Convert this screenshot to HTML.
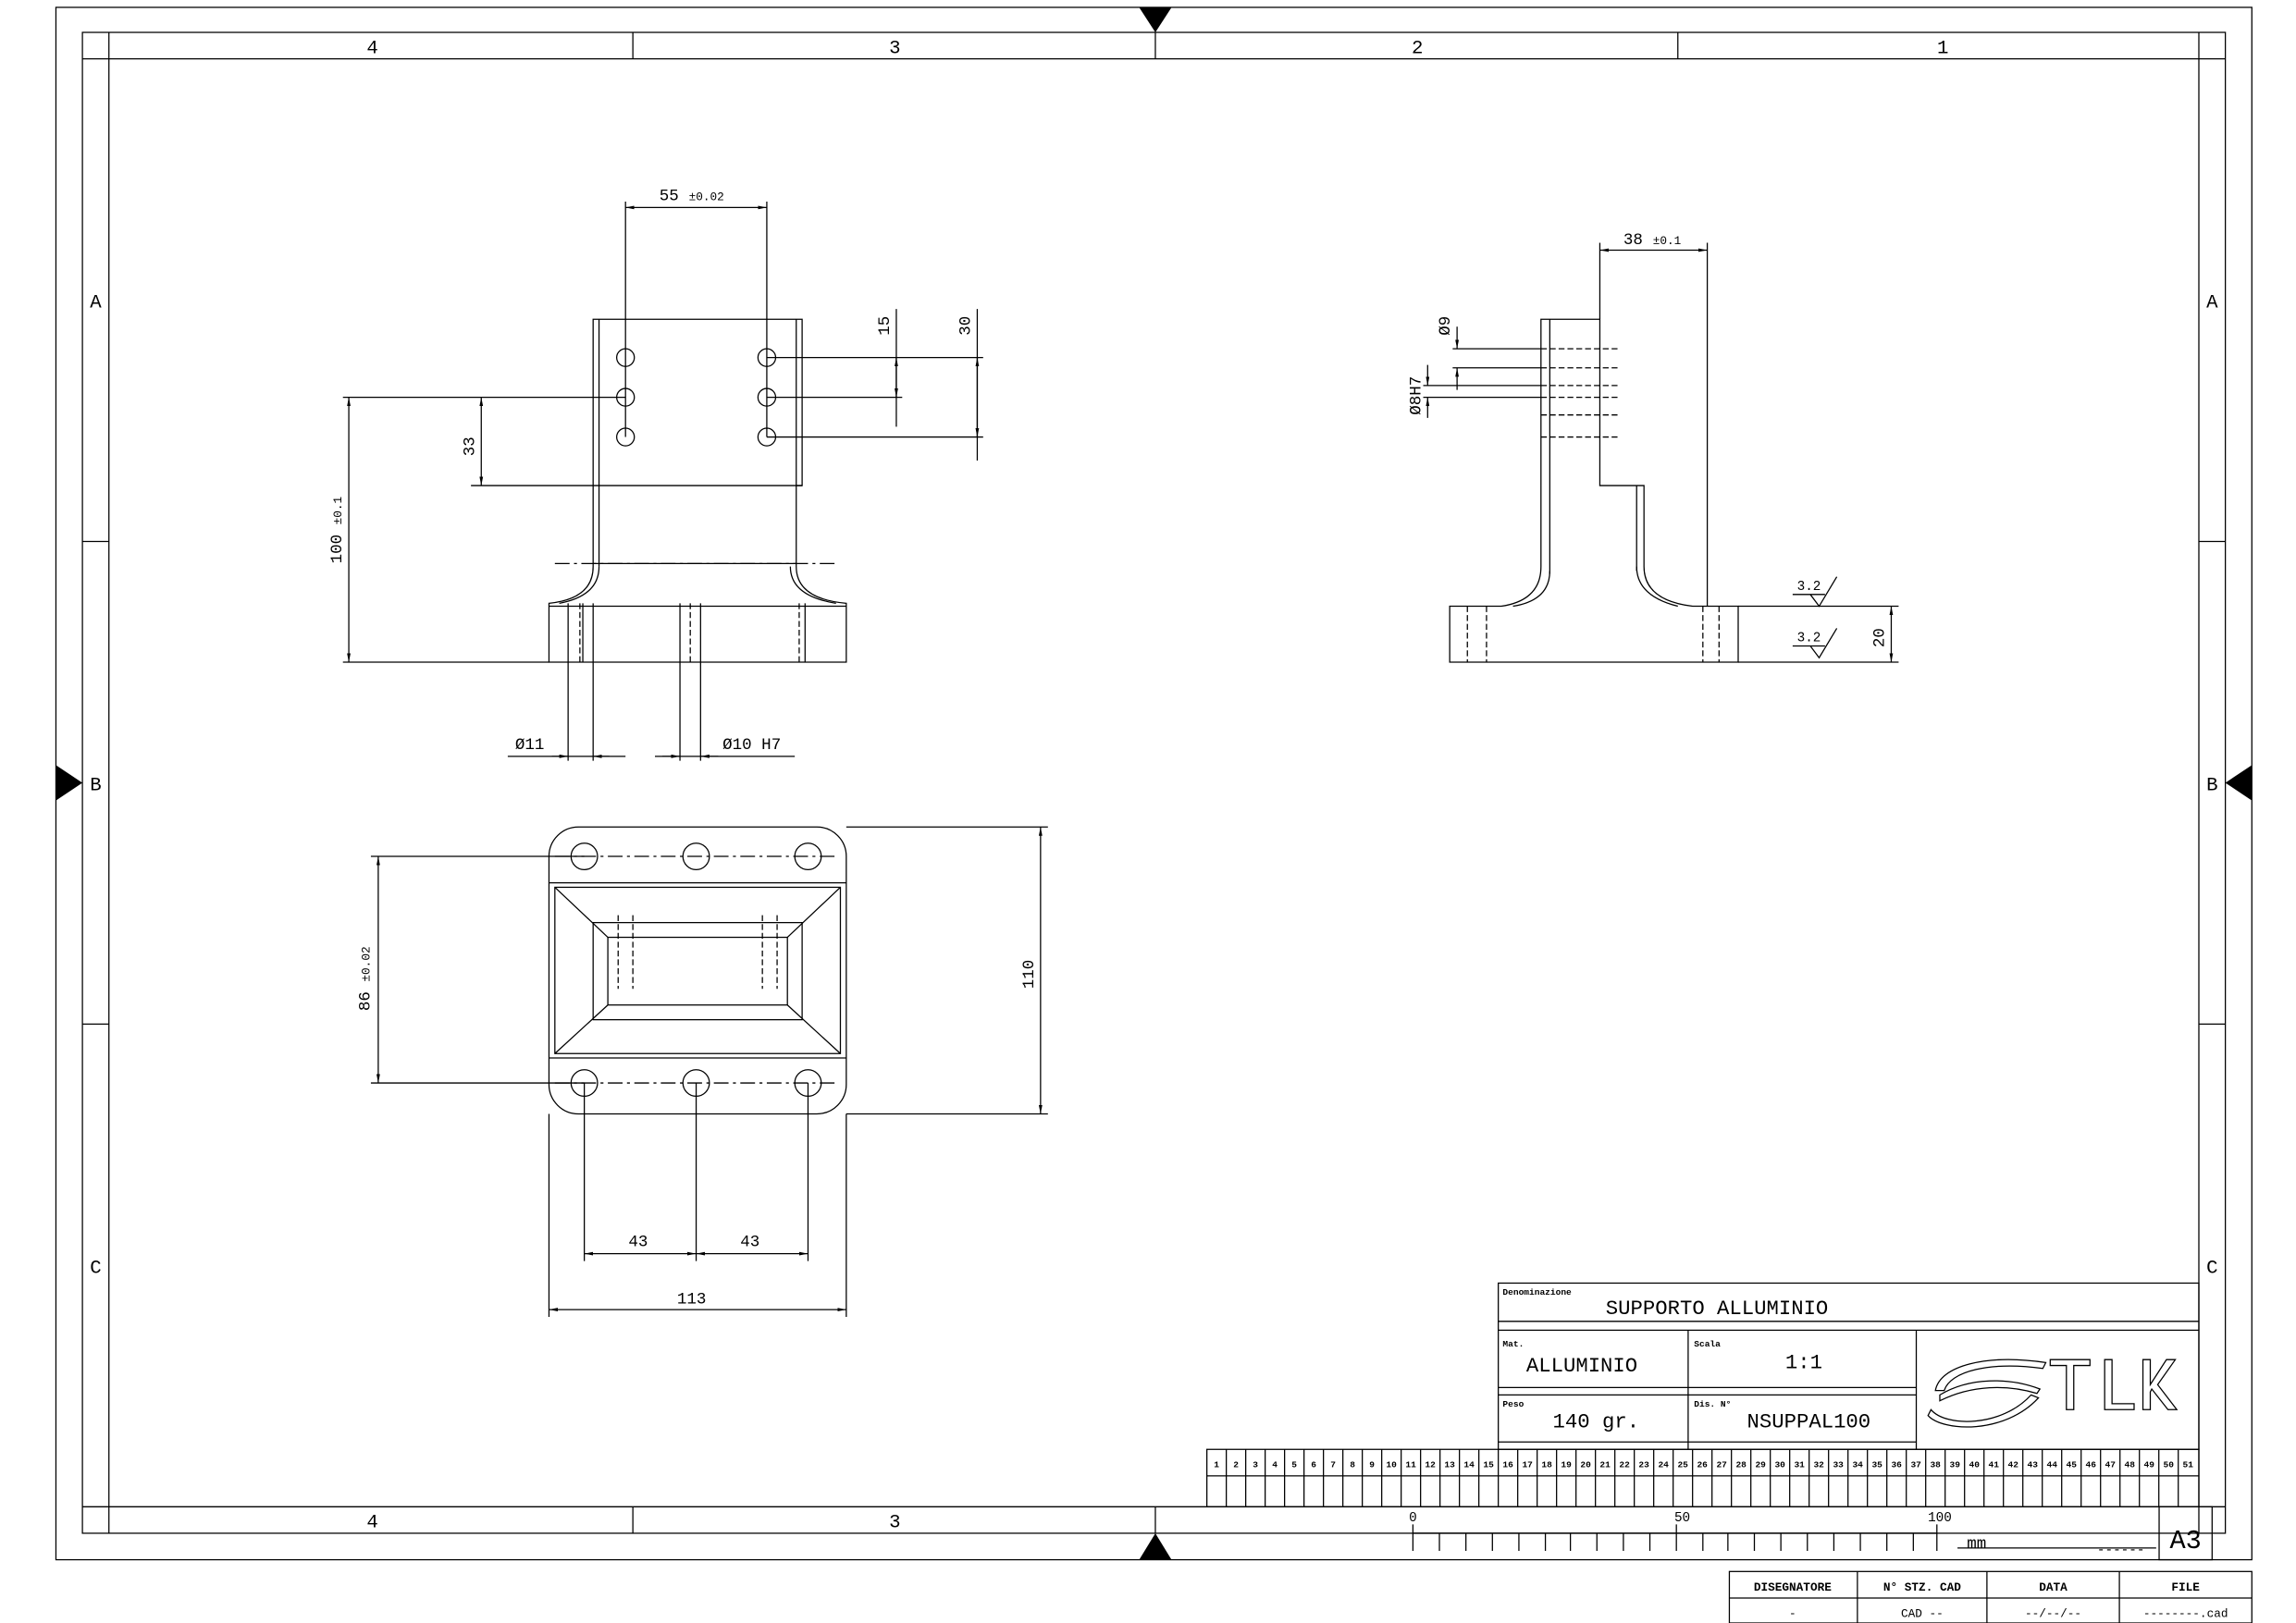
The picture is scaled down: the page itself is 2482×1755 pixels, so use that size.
<!DOCTYPE html>
<html><head><meta charset="utf-8"><style>
html,body{margin:0;padding:0;background:#fff;}
svg{display:block}
text{font-family:"Liberation Mono","DejaVu Sans Mono",monospace;fill:#000}
.s{font-family:"Liberation Sans",sans-serif}
</style></head><body>
<svg width="2482" height="1755" viewBox="0 0 1560 1103" preserveAspectRatio="none" xmlns="http://www.w3.org/2000/svg">
<defs>
<marker id="a" viewBox="0 0 10 10" refX="10" refY="5" markerWidth="6" markerHeight="6" orient="auto-start-reverse" markerUnits="userSpaceOnUse"><path d="M0,3 L10,5 L0,7z" fill="#000"/></marker>
</defs>
<g fill="none" stroke="#000" stroke-width="0.8">
<rect x="38" y="5" width="1492" height="1055"/>
<rect x="56" y="22" width="1456" height="1020"/>
<line x1="56" y1="40" x2="1512" y2="40"/>
<line x1="56" y1="1024" x2="1512" y2="1024"/>
<line x1="74" y1="22" x2="74" y2="1042"/>
<line x1="1494" y1="22" x2="1494" y2="1042"/>
<line x1="430" y1="22" x2="430" y2="40"/><line x1="785" y1="22" x2="785" y2="40"/><line x1="1140" y1="22" x2="1140" y2="40"/>
<line x1="430" y1="1024" x2="430" y2="1042"/><line x1="785" y1="1024" x2="785" y2="1042"/>
<line x1="56" y1="368" x2="74" y2="368"/><line x1="56" y1="696" x2="74" y2="696"/>
<line x1="1494" y1="368" x2="1512" y2="368"/><line x1="1494" y1="696" x2="1512" y2="696"/>
</g>
<g fill="#000">
<path d="M774,5 L796,5 L785,22z"/><path d="M774,1060 L796,1060 L785,1042z"/>
<path d="M38,520 L38,544 L56,532z"/><path d="M1530,520 L1530,544 L1512,532z"/>
</g>
<g class="s" font-size="13" text-anchor="middle">
<text x="253" y="36">4</text><text x="608" y="36">3</text><text x="963" y="36">2</text><text x="1320" y="36">1</text>
<text x="253" y="1038">4</text><text x="608" y="1038">3</text>
<text x="65" y="209">A</text><text x="65" y="537">B</text><text x="65" y="865">C</text>
<text x="1503" y="209">A</text><text x="1503" y="537">B</text><text x="1503" y="865">C</text>
</g>

<g fill="none" stroke="#000" stroke-width="0.8">
<path d="M403,217 L545,217 L545,330 L541,330 L541,385 Q541,407 575,410 L575,450 L373,450 L373,410 Q403,407 403,385 Z"/>
<line x1="407" y1="217" x2="407" y2="385"/><line x1="541" y1="217" x2="541" y2="330"/>
<path d="M407,385 Q407,405 380,410"/><path d="M537,385 Q537,405 568,410"/>
<line x1="373" y1="412" x2="575" y2="412"/>
<line x1="320" y1="330" x2="545" y2="330"/>
<line x1="377" y1="383" x2="570" y2="383" stroke-dasharray="10,3,2,3"/>
<line x1="403" y1="383" x2="541" y2="383"/>
<circle cx="425" cy="243" r="6"/><circle cx="521" cy="243" r="6"/>
<circle cx="425" cy="270" r="6"/><circle cx="521" cy="270" r="6"/>
<circle cx="425" cy="297" r="6"/><circle cx="521" cy="297" r="6"/>
<g stroke-dasharray="4,2"><line x1="394" y1="410" x2="394" y2="450"/><line x1="543" y1="410" x2="543" y2="450"/><line x1="469" y1="410" x2="469" y2="450"/></g>
<line x1="386" y1="410" x2="386" y2="517"/><line x1="403" y1="410" x2="403" y2="517"/>
<line x1="462" y1="410" x2="462" y2="517"/><line x1="476" y1="410" x2="476" y2="517"/>
<line x1="547" y1="410" x2="547" y2="450"/><line x1="396" y1="410" x2="396" y2="450"/>
<line x1="425" y1="137" x2="425" y2="297"/><line x1="521" y1="137" x2="521" y2="297"/>
<line x1="425" y1="141" x2="521" y2="141" marker-start="url(#a)" marker-end="url(#a)"/>
<line x1="521" y1="243" x2="668" y2="243"/><line x1="521" y1="270" x2="613" y2="270"/><line x1="521" y1="297" x2="668" y2="297"/>
<line x1="609" y1="210" x2="609" y2="290"/>
<line x1="609" y1="243" x2="609" y2="270" marker-start="url(#a)" marker-end="url(#a)"/>
<line x1="664" y1="210" x2="664" y2="313"/>
<line x1="664" y1="243" x2="664" y2="297" marker-start="url(#a)" marker-end="url(#a)"/>
<line x1="233" y1="270" x2="425" y2="270"/><line x1="233" y1="450" x2="373" y2="450"/>
<line x1="237" y1="270" x2="237" y2="450" marker-start="url(#a)" marker-end="url(#a)"/>
<line x1="327" y1="270" x2="327" y2="330" marker-start="url(#a)" marker-end="url(#a)"/>
<line x1="345" y1="514" x2="425" y2="514"/>
<line x1="375" y1="514" x2="386" y2="514" marker-end="url(#a)"/><line x1="414" y1="514" x2="403" y2="514" marker-end="url(#a)"/>
<line x1="445" y1="514" x2="540" y2="514"/>
<line x1="450" y1="514" x2="462" y2="514" marker-end="url(#a)"/><line x1="488" y1="514" x2="476" y2="514" marker-end="url(#a)"/>
</g>
<text x="448" y="136" font-size="11">55</text><text x="468" y="136" font-size="8">±0.02</text>
<text transform="translate(604,228) rotate(-90)" font-size="11">15</text>
<text transform="translate(659,228) rotate(-90)" font-size="11">30</text>
<text transform="translate(322,310) rotate(-90)" font-size="11">33</text>
<text transform="translate(232,383) rotate(-90)" font-size="11">100 <tspan font-size="8">±0.1</tspan></text>
<text x="350" y="509" font-size="11">Ø11</text>
<text x="491" y="509" font-size="11">Ø10 H7</text>

<g fill="none" stroke="#000" stroke-width="0.8">
<path d="M1047,217 L1087,217 L1087,330 L1117,330 L1117,385 Q1117,408 1150,412 L1181,412 L1181,450 L985,450 L985,412 L1020,412 Q1047,408 1047,385 Z"/>
<line x1="1053" y1="217" x2="1053" y2="390"/>
<path d="M1053,388 Q1053,408 1028,412"/><path d="M1112,385 Q1112,405 1140,412"/>
<line x1="1112" y1="330" x2="1112" y2="388"/>
<g stroke-dasharray="4,2">
<line x1="1047" y1="237" x2="1100" y2="237"/><line x1="1047" y1="250" x2="1100" y2="250"/>
<line x1="1047" y1="262" x2="1100" y2="262"/><line x1="1047" y1="270" x2="1100" y2="270"/>
<line x1="1047" y1="282" x2="1100" y2="282"/><line x1="1047" y1="297" x2="1100" y2="297"/>
<line x1="997" y1="412" x2="997" y2="450"/><line x1="1010" y1="412" x2="1010" y2="450"/>
<line x1="1157" y1="412" x2="1157" y2="450"/><line x1="1168" y1="412" x2="1168" y2="450"/>
</g>
<line x1="1087" y1="165" x2="1087" y2="217"/><line x1="1160" y1="165" x2="1160" y2="412"/>
<line x1="1087" y1="170" x2="1160" y2="170" marker-start="url(#a)" marker-end="url(#a)"/>
<line x1="987" y1="237" x2="1047" y2="237"/><line x1="987" y1="250" x2="1047" y2="250"/>
<line x1="990" y1="222" x2="990" y2="237" marker-end="url(#a)"/><line x1="990" y1="265" x2="990" y2="250" marker-end="url(#a)"/>
<line x1="967" y1="262" x2="1047" y2="262"/><line x1="967" y1="270" x2="1047" y2="270"/>
<line x1="970" y1="248" x2="970" y2="262" marker-end="url(#a)"/><line x1="970" y1="284" x2="970" y2="270" marker-end="url(#a)"/>
<line x1="1181" y1="412" x2="1290" y2="412"/><line x1="1181" y1="450" x2="1290" y2="450"/>
<line x1="1285" y1="412" x2="1285" y2="450" marker-start="url(#a)" marker-end="url(#a)"/>
<path d="M1218,404 L1240,404 M1230,404 L1236,412 L1248,392"/>
<path d="M1218,439 L1240,439 M1230,439 L1236,447 L1248,427"/>
</g>
<text x="1103" y="166" font-size="11">38</text><text x="1123" y="166" font-size="8">±0.1</text>
<text transform="translate(985,228) rotate(-90)" font-size="11">Ø9</text>
<text transform="translate(965,282) rotate(-90)" font-size="11">Ø8H7</text>
<text x="1221" y="401" font-size="9">3.2</text><text x="1221" y="436" font-size="9">3.2</text>
<text transform="translate(1280,440) rotate(-90)" font-size="11">20</text>

<g fill="none" stroke="#000" stroke-width="0.8">
<rect x="373" y="562" width="202" height="195" rx="20"/>
<circle cx="397" cy="582" r="9"/><circle cx="473" cy="582" r="9"/><circle cx="549" cy="582" r="9"/>
<circle cx="397" cy="736" r="9"/><circle cx="473" cy="736" r="9"/><circle cx="549" cy="736" r="9"/>
<line x1="377" y1="582" x2="570" y2="582" stroke-dasharray="10,3,2,3"/>
<line x1="377" y1="736" x2="570" y2="736" stroke-dasharray="10,3,2,3"/>
<line x1="373" y1="600" x2="575" y2="600"/><line x1="373" y1="719" x2="575" y2="719"/>
<rect x="377" y="603" width="194" height="113"/>
<rect x="403" y="627" width="142" height="66"/>
<rect x="413" y="637" width="122" height="46"/>
<path d="M377,603 L413,637 M571,603 L535,637 M377,716 L413,683 M571,716 L535,683"/>
<g stroke-dasharray="4,2"><line x1="420" y1="622" x2="420" y2="672"/><line x1="430" y1="622" x2="430" y2="672"/><line x1="518" y1="622" x2="518" y2="672"/><line x1="528" y1="622" x2="528" y2="672"/></g>
<line x1="252" y1="582" x2="397" y2="582"/><line x1="252" y1="736" x2="397" y2="736"/>
<line x1="257" y1="582" x2="257" y2="736" marker-start="url(#a)" marker-end="url(#a)"/>
<line x1="575" y1="562" x2="712" y2="562"/><line x1="575" y1="757" x2="712" y2="757"/>
<line x1="707" y1="562" x2="707" y2="757" marker-start="url(#a)" marker-end="url(#a)"/>
<line x1="397" y1="736" x2="397" y2="857"/><line x1="473" y1="736" x2="473" y2="857"/><line x1="549" y1="736" x2="549" y2="857"/>
<line x1="397" y1="852" x2="473" y2="852" marker-start="url(#a)" marker-end="url(#a)"/>
<line x1="473" y1="852" x2="549" y2="852" marker-start="url(#a)" marker-end="url(#a)"/>
<line x1="373" y1="757" x2="373" y2="895"/><line x1="575" y1="757" x2="575" y2="895"/>
<line x1="373" y1="890" x2="575" y2="890" marker-start="url(#a)" marker-end="url(#a)"/>
</g>
<text transform="translate(251,687) rotate(-90)" font-size="11">86 <tspan font-size="8">±0.02</tspan></text>
<text transform="translate(702,672) rotate(-90)" font-size="11">110</text>
<text x="427" y="847" font-size="11">43</text><text x="503" y="847" font-size="11">43</text>
<text x="460" y="886" font-size="11">113</text>

<g fill="none" stroke="#000" stroke-width="0.8">
<rect x="1018" y="872" width="476" height="113"/>
<line x1="1018" y1="898" x2="1494" y2="898"/><line x1="1018" y1="904" x2="1494" y2="904"/>
<line x1="1147" y1="904" x2="1147" y2="985"/><line x1="1302" y1="904" x2="1302" y2="985"/>
<line x1="1018" y1="943" x2="1302" y2="943"/><line x1="1018" y1="948" x2="1302" y2="948"/>
<line x1="1018" y1="980" x2="1302" y2="980"/>
<rect x="820" y="985" width="674" height="39"/>
<line x1="820" y1="1003" x2="1494" y2="1003"/>
<path d="M1315,945 C1318,928 1350,920 1390,926 L1388,930 C1352,925 1325,932 1321,945 Z"/>
<path d="M1312,958 C1322,970 1360,970 1380,948 L1385,950 C1362,975 1320,973 1310,962 Z"/>
<path d="M1318,948 C1338,936 1365,936 1386,944 L1384,947 C1364,941 1340,941 1318,952 Z"/>
<path d="M1393,924 L1420,924 L1420,928 L1409,928 L1409,958 L1404,958 L1404,928 L1393,928 Z"/>
<path d="M1430,924 L1435,924 L1435,954 L1450,954 L1450,958 L1430,958 Z"/>
<path d="M1456,924 L1461,924 L1461,941 L1472,924 L1478,924 L1466,941 L1479,958 L1473,958 L1462,944 L1461,946 L1461,958 L1456,958 Z"/>
<line x1="960" y1="1042" x2="1316" y2="1042"/>
<rect x="1467" y="1024" width="36" height="36"/>
<rect x="1175" y="1068" width="355" height="35"/>
<line x1="1175" y1="1086" x2="1530" y2="1086"/>
<line x1="1262" y1="1068" x2="1262" y2="1103"/><line x1="1350" y1="1068" x2="1350" y2="1103"/><line x1="1440" y1="1068" x2="1440" y2="1103"/>
</g>
<g stroke="#000" stroke-width="0.8">
<line x1="833.2" y1="985" x2="833.2" y2="1024"/><line x1="846.4" y1="985" x2="846.4" y2="1024"/><line x1="859.6" y1="985" x2="859.6" y2="1024"/><line x1="872.8" y1="985" x2="872.8" y2="1024"/><line x1="886.0" y1="985" x2="886.0" y2="1024"/><line x1="899.2" y1="985" x2="899.2" y2="1024"/><line x1="912.4" y1="985" x2="912.4" y2="1024"/><line x1="925.6" y1="985" x2="925.6" y2="1024"/><line x1="938.8" y1="985" x2="938.8" y2="1024"/><line x1="952.0" y1="985" x2="952.0" y2="1024"/><line x1="965.2" y1="985" x2="965.2" y2="1024"/><line x1="978.4" y1="985" x2="978.4" y2="1024"/><line x1="991.6" y1="985" x2="991.6" y2="1024"/><line x1="1004.8" y1="985" x2="1004.8" y2="1024"/><line x1="1018.0" y1="985" x2="1018.0" y2="1024"/><line x1="1031.2" y1="985" x2="1031.2" y2="1024"/><line x1="1044.4" y1="985" x2="1044.4" y2="1024"/><line x1="1057.6" y1="985" x2="1057.6" y2="1024"/><line x1="1070.8" y1="985" x2="1070.8" y2="1024"/><line x1="1084.0" y1="985" x2="1084.0" y2="1024"/><line x1="1097.2" y1="985" x2="1097.2" y2="1024"/><line x1="1110.4" y1="985" x2="1110.4" y2="1024"/><line x1="1123.6" y1="985" x2="1123.6" y2="1024"/><line x1="1136.8" y1="985" x2="1136.8" y2="1024"/><line x1="1150.0" y1="985" x2="1150.0" y2="1024"/><line x1="1163.2" y1="985" x2="1163.2" y2="1024"/><line x1="1176.4" y1="985" x2="1176.4" y2="1024"/><line x1="1189.6" y1="985" x2="1189.6" y2="1024"/><line x1="1202.8" y1="985" x2="1202.8" y2="1024"/><line x1="1216.0" y1="985" x2="1216.0" y2="1024"/><line x1="1229.2" y1="985" x2="1229.2" y2="1024"/><line x1="1242.4" y1="985" x2="1242.4" y2="1024"/><line x1="1255.6" y1="985" x2="1255.6" y2="1024"/><line x1="1268.8" y1="985" x2="1268.8" y2="1024"/><line x1="1282.0" y1="985" x2="1282.0" y2="1024"/><line x1="1295.2" y1="985" x2="1295.2" y2="1024"/><line x1="1308.4" y1="985" x2="1308.4" y2="1024"/><line x1="1321.6" y1="985" x2="1321.6" y2="1024"/><line x1="1334.8" y1="985" x2="1334.8" y2="1024"/><line x1="1348.0" y1="985" x2="1348.0" y2="1024"/><line x1="1361.2" y1="985" x2="1361.2" y2="1024"/><line x1="1374.4" y1="985" x2="1374.4" y2="1024"/><line x1="1387.6" y1="985" x2="1387.6" y2="1024"/><line x1="1400.8" y1="985" x2="1400.8" y2="1024"/><line x1="1414.0" y1="985" x2="1414.0" y2="1024"/><line x1="1427.2" y1="985" x2="1427.2" y2="1024"/><line x1="1440.4" y1="985" x2="1440.4" y2="1024"/><line x1="1453.6" y1="985" x2="1453.6" y2="1024"/><line x1="1466.8" y1="985" x2="1466.8" y2="1024"/><line x1="1480.0" y1="985" x2="1480.0" y2="1024"/>
</g>
<g font-size="6" font-weight="bold" text-anchor="middle" class="s">
<text x="826.6" y="997">1</text><text x="839.8" y="997">2</text><text x="853" y="997">3</text><text x="866.2" y="997">4</text><text x="879.4" y="997">5</text><text x="892.6" y="997">6</text><text x="905.8" y="997">7</text><text x="919" y="997">8</text><text x="932.2" y="997">9</text><text x="945.4" y="997">10</text><text x="958.6" y="997">11</text><text x="971.8" y="997">12</text><text x="985" y="997">13</text><text x="998.2" y="997">14</text><text x="1011.4" y="997">15</text><text x="1024.6" y="997">16</text><text x="1037.8" y="997">17</text><text x="1051" y="997">18</text><text x="1064.2" y="997">19</text><text x="1077.4" y="997">20</text><text x="1090.6" y="997">21</text><text x="1103.8" y="997">22</text><text x="1117" y="997">23</text><text x="1130.2" y="997">24</text><text x="1143.4" y="997">25</text><text x="1156.6" y="997">26</text><text x="1169.8" y="997">27</text><text x="1183" y="997">28</text><text x="1196.2" y="997">29</text><text x="1209.4" y="997">30</text><text x="1222.6" y="997">31</text><text x="1235.8" y="997">32</text><text x="1249" y="997">33</text><text x="1262.2" y="997">34</text><text x="1275.4" y="997">35</text><text x="1288.6" y="997">36</text><text x="1301.8" y="997">37</text><text x="1315" y="997">38</text><text x="1328.2" y="997">39</text><text x="1341.4" y="997">40</text><text x="1354.6" y="997">41</text><text x="1367.8" y="997">42</text><text x="1381" y="997">43</text><text x="1394.2" y="997">44</text><text x="1407.4" y="997">45</text><text x="1420.6" y="997">46</text><text x="1433.8" y="997">47</text><text x="1447" y="997">48</text><text x="1460.2" y="997">49</text><text x="1473.4" y="997">50</text><text x="1486.6" y="997">51</text>
</g>
<g stroke="#000" stroke-width="0.8">
<path d="M960,1036 V1054 M978,1042 V1054 M996,1042 V1054 M1014,1042 V1054 M1032,1042 V1054 M1050,1042 V1054 M1067,1042 V1054 M1085,1042 V1054 M1103,1042 V1054 M1121,1042 V1054 M1139,1036 V1054 M1157,1042 V1054 M1174,1042 V1054 M1192,1042 V1054 M1210,1042 V1054 M1228,1042 V1054 M1246,1042 V1054 M1264,1042 V1054 M1282,1042 V1054 M1300,1042 V1054 M1316,1036 V1054"/>
<line x1="1330" y1="1052" x2="1465" y2="1052"/>
</g>
<g class="s">
<text x="1021" y="880" font-size="6" font-weight="bold">Denominazione</text>
<text x="1091" y="893" font-size="14">SUPPORTO ALLUMINIO</text>
<text x="1021" y="915" font-size="6" font-weight="bold">Mat.</text>
<text x="1037" y="932" font-size="14">ALLUMINIO</text>
<text x="1151" y="915" font-size="6" font-weight="bold">Scala</text>
<text x="1213" y="930" font-size="14">1:1</text>
<text x="1021" y="956" font-size="6" font-weight="bold">Peso</text>
<text x="1055" y="970" font-size="14">140 gr.</text>
<text x="1151" y="956" font-size="6" font-weight="bold">Dis. N°</text>
<text x="1187" y="970" font-size="14">NSUPPAL100</text>
</g>
<g class="s" font-size="9" text-anchor="middle">
<text x="960" y="1034">0</text><text x="1143" y="1034">50</text><text x="1318" y="1034">100</text>
<text x="1343" y="1052" font-size="11">mm</text>
<text x="1441" y="1056">------</text>
<text x="1485" y="1052" font-size="18">A3</text>
<text x="1218" y="1081" font-weight="bold" font-size="8">DISEGNATORE</text>
<text x="1306" y="1081" font-weight="bold" font-size="8">N° STZ. CAD</text>
<text x="1395" y="1081" font-weight="bold" font-size="8">DATA</text>
<text x="1485" y="1081" font-weight="bold" font-size="8">FILE</text>
<text x="1218" y="1099" font-size="8">-</text>
<text x="1306" y="1099" font-size="8">CAD --</text>
<text x="1395" y="1099" font-size="8">--/--/--</text>
<text x="1485" y="1099" font-size="8">--------.cad</text>
</g>
</svg>
</body></html>
